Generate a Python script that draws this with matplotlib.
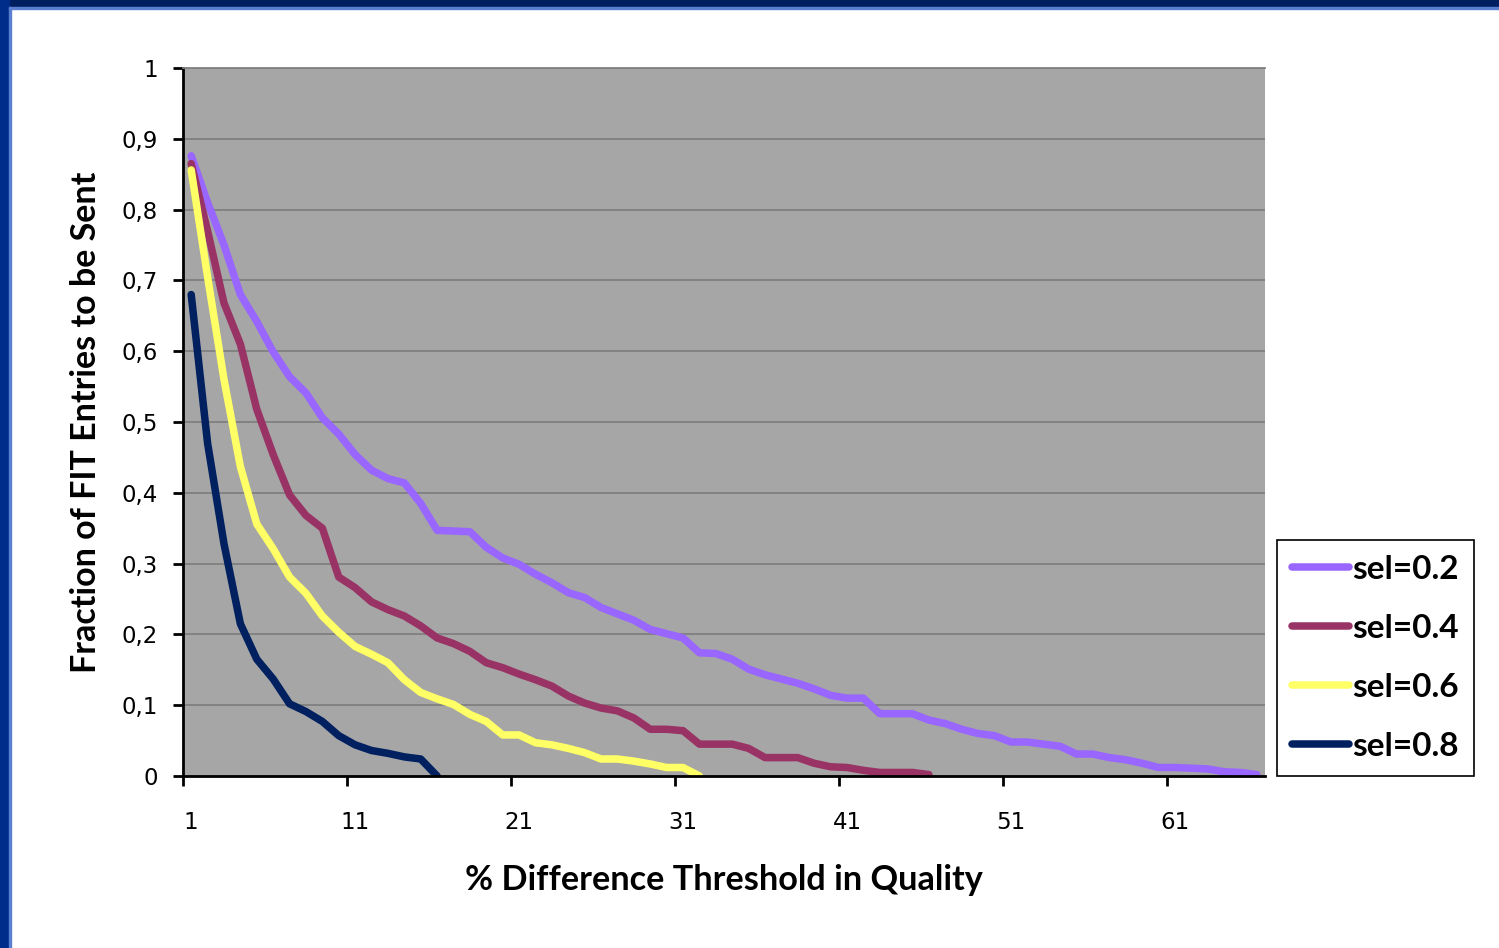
import numpy as np
import matplotlib.pyplot as plt
from matplotlib.patches import Rectangle

# values, one per threshold step (1, 2, 3, ...)
sel02 = [0.876, 0.81, 0.75, 0.68, 0.642, 0.599, 0.564, 0.541, 0.506, 0.483,
         0.454, 0.432, 0.420, 0.414, 0.385, 0.347, 0.346, 0.345, 0.323, 0.308,
         0.299, 0.285, 0.273, 0.259, 0.252, 0.238, 0.229, 0.220, 0.207, 0.201,
         0.195, 0.174, 0.173, 0.165, 0.151, 0.143, 0.137, 0.131, 0.123, 0.114,
         0.110, 0.110, 0.088, 0.088, 0.088, 0.079, 0.074, 0.066, 0.060, 0.057,
         0.048, 0.048, 0.045, 0.042, 0.031, 0.031, 0.026, 0.023, 0.018, 0.012,
         0.012, 0.011, 0.010, 0.006, 0.005, 0.002]
sel04 = [0.865, 0.77, 0.668, 0.610, 0.518, 0.454, 0.397, 0.368, 0.350, 0.281,
         0.266, 0.246, 0.235, 0.226, 0.212, 0.195, 0.187, 0.176, 0.160, 0.153,
         0.144, 0.136, 0.127, 0.113, 0.103, 0.096, 0.092, 0.082, 0.066, 0.066,
         0.064, 0.045, 0.045, 0.045, 0.039, 0.026, 0.026, 0.026, 0.018, 0.013,
         0.012, 0.008, 0.005, 0.005, 0.005, 0.002]
sel06 = [0.856, 0.705, 0.56, 0.437, 0.356, 0.321, 0.281, 0.258, 0.226, 0.203,
         0.183, 0.172, 0.160, 0.136, 0.118, 0.109, 0.101, 0.087, 0.077, 0.058,
         0.058, 0.047, 0.044, 0.039, 0.033, 0.024, 0.024, 0.021, 0.017, 0.012,
         0.012, 0.0]
sel08 = [0.680, 0.470, 0.328, 0.215, 0.165, 0.137, 0.102, 0.091, 0.077, 0.057,
         0.044, 0.036, 0.032, 0.027, 0.024, 0.0]

series = [("sel=0.2", sel02, "#9966FF"),
          ("sel=0.4", sel04, "#993366"),
          ("sel=0.6", sel06, "#FFFF66"),
          ("sel=0.8", sel08, "#002060")]

n_cat = 66
xtick_labels = ["1", "11", "21", "31", "41", "51", "61"]
yticks = np.round(np.arange(0, 1.01, 0.1), 1)
ytick_labels = ["0" if v == 0 else "1" if v == 1 else ("%.1f" % v).replace(".", ",") for v in yticks]

fig = plt.figure(figsize=(14.99, 9.48), dpi=100)
fig.patch.set_facecolor("white")

# slide frame (dark blue band on top and left)
fig.patches.append(Rectangle((0, 1 - 7 / 948), 1, 7 / 948, transform=fig.transFigure,
                             color="#001F60", zorder=0))
fig.patches.append(Rectangle((0, 0), 9 / 1499, 1, transform=fig.transFigure,
                             color="#002C8A", zorder=0))
fig.patches.append(Rectangle((9 / 1499, 0), 1.5 / 1499, 1 - 7 / 948, transform=fig.transFigure,
                             color="#5B7FD0", zorder=0))
fig.patches.append(Rectangle((9 / 1499, 1 - 8.5 / 948), 1, 1.5 / 948, transform=fig.transFigure,
                             color="#5B7FD0", zorder=0))

ax = fig.add_axes([183 / 1499, 1 - 776 / 948, 1082 / 1499, 708 / 948])
ax.set_facecolor("#A6A6A6")

for name, vals, col in series:
    x = np.arange(1, len(vals) + 1)
    ax.plot(x, vals, color=col, lw=5.4, label=name,
            solid_joinstyle="round", solid_capstyle="round")

ax.set_xlim(0.5, n_cat + 0.5)
ax.set_ylim(0, 1)

# gridlines
ax.set_yticks(yticks)
ax.set_yticklabels(ytick_labels)
ax.grid(axis="y", color="#808080", lw=1.3)
ax.set_axisbelow(True)

# category axis: ticks between categories, labels on categories
ax.set_xticks(np.arange(0.5, 61, 10))
ax.set_xticklabels([])
ax.set_xticks(np.arange(1, 62, 10), minor=True)
ax.set_xticklabels(xtick_labels, minor=True)
ax.tick_params(axis="x", which="major", length=7, width=2, direction="out", color="black")
ax.tick_params(axis="x", which="minor", length=0, pad=25, labelsize=16.5)
ax.tick_params(axis="y", length=7, width=2, direction="out", pad=11, labelsize=16.5)

ax.spines["left"].set_linewidth(2)
ax.spines["bottom"].set_linewidth(2)
ax.spines["right"].set_visible(False)
ax.spines["top"].set_color("#808080")
ax.spines["top"].set_linewidth(1.3)

ax.set_ylabel("Fraction of FIT Entries to be Sent", fontsize=24.5, fontweight="bold",
              family="Lato")
ax.yaxis.set_label_coords(-0.075, 0.5)
ax.set_xlabel("% Difference Threshold in Quality", fontsize=24.7, fontweight="bold",
              family="Lato")
ax.xaxis.set_label_coords(0.5, -0.124)

leg = ax.legend(loc="lower left", bbox_to_anchor=(1277 / 1499, 1 - 776 / 948),
                bbox_transform=fig.transFigure, borderaxespad=0, frameon=True,
                fancybox=False, edgecolor="black", framealpha=1,
                handlelength=1.7, handletextpad=0.1, labelspacing=0.9, borderpad=0.45,
                prop={"family": "Lato", "weight": "bold", "size": 24})
leg.get_frame().set_linewidth(1.2)

fig.savefig("out.png", dpi=100)
